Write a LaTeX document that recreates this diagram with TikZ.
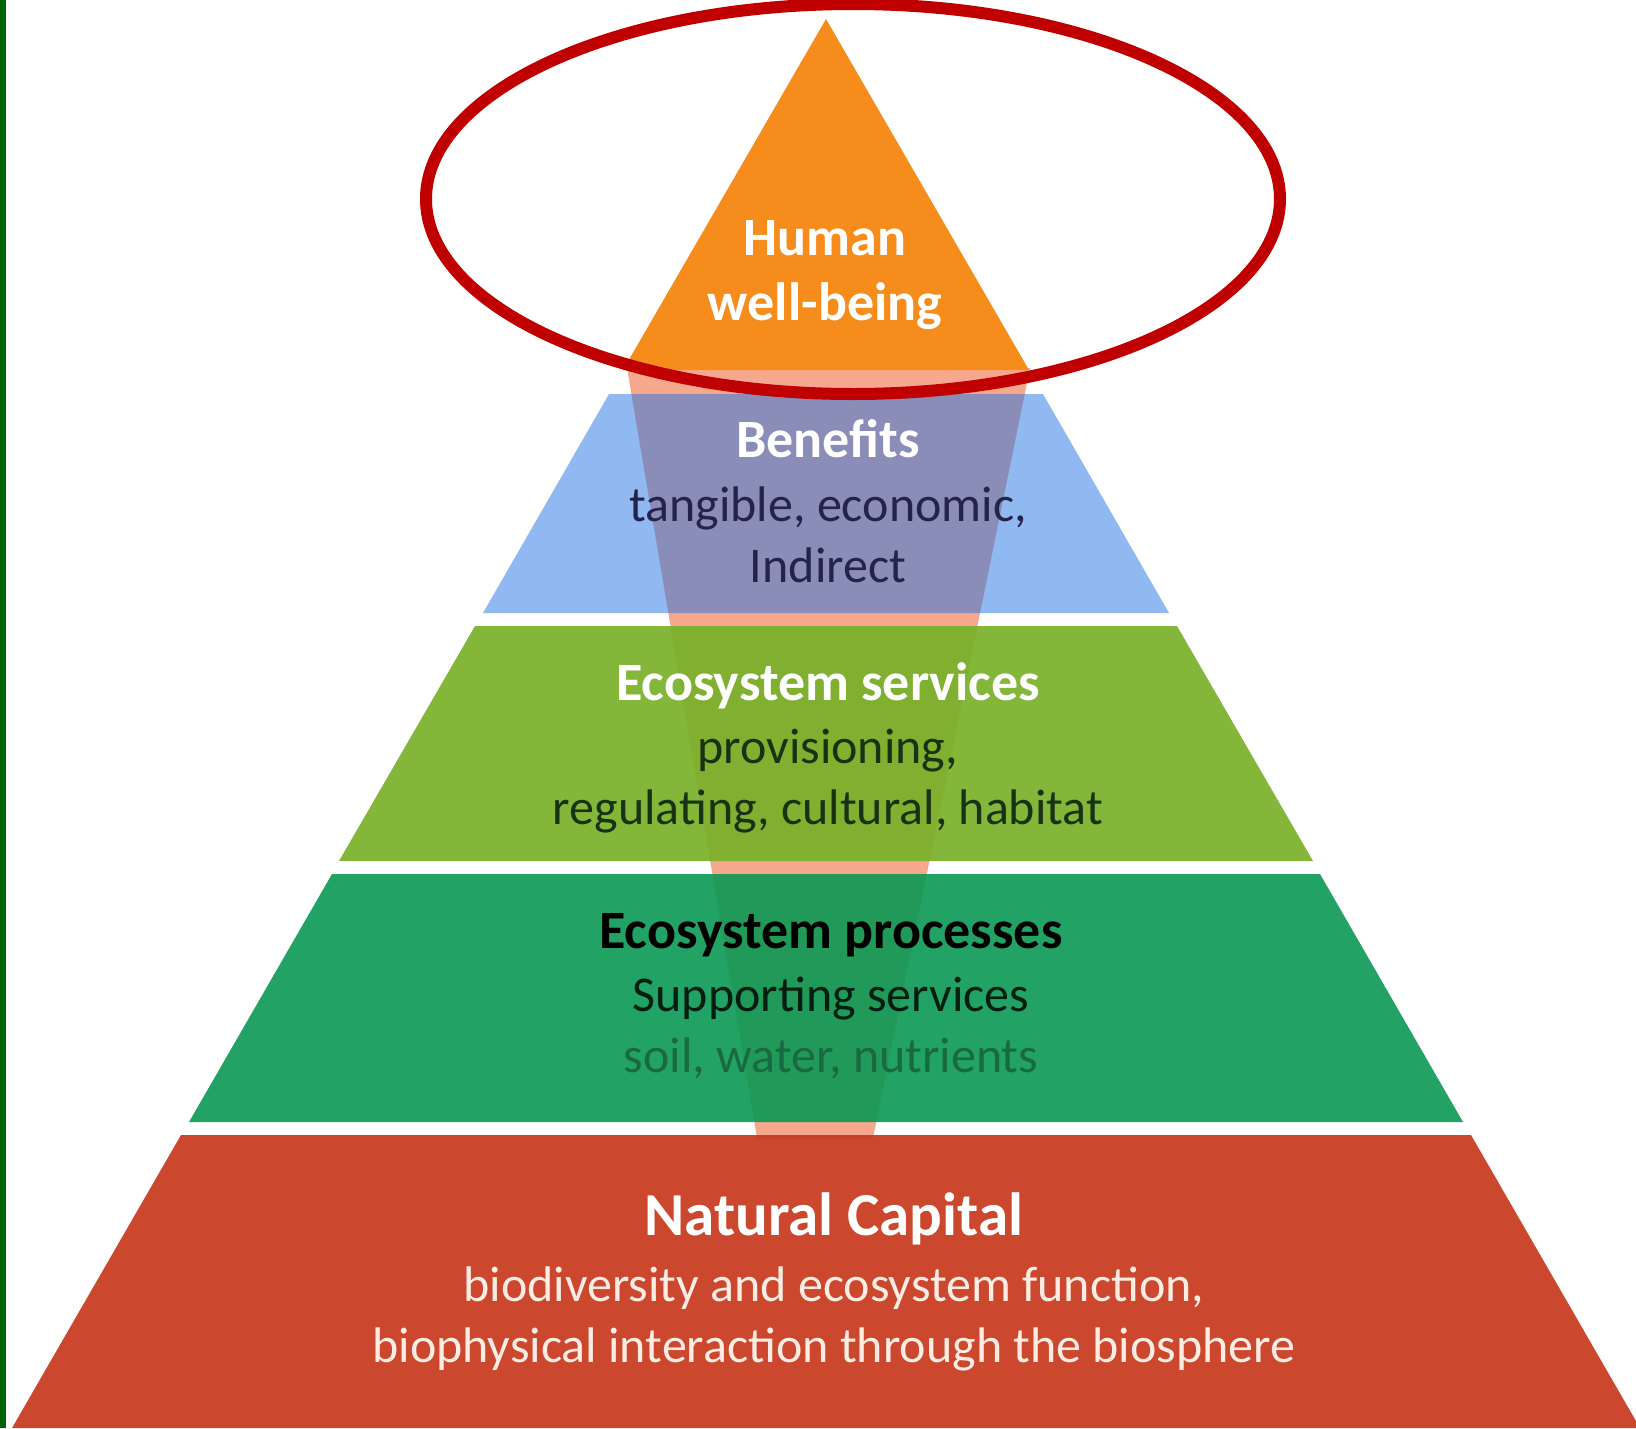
\documentclass[tikz,border=0pt]{standalone}
\usepackage{fontspec}
\setmainfont{Carlito}
\usetikzlibrary{positioning}

\definecolor{edgegreen}{RGB}{0,100,0}
\definecolor{humanorange}{RGB}{246,140,28}
\definecolor{benefitblue}{RGB}{31,115,225}
\definecolor{servicegreen}{RGB}{120,176,40}
\definecolor{processgreen}{RGB}{10,152,84}
\definecolor{capitalred}{RGB}{199,55,27}
\definecolor{funnelsalmon}{RGB}{245,168,142}
\definecolor{ringred}{RGB}{192,0,0}
\definecolor{navytext}{RGB}{35,35,75}
\definecolor{leaftext}{RGB}{25,50,20}
\definecolor{soiltext}{RGB}{25,105,65}
\definecolor{paletext}{RGB}{252,236,228}

\begin{document}
\begin{tikzpicture}[
  x=1pt, y=-1pt,
  node distance = 61pt,
  band/.style={draw=none},
  head/.style={font=\fontsize{54}{60}\selectfont\bfseries, text height=36pt, text depth=10pt, inner sep=0pt},
  body/.style={font=\fontsize{50}{60}\selectfont, text height=34pt, text depth=10pt, inner sep=0pt},
  ring/.style={draw=ringred, line width=12pt}
  ]

\useasboundingbox (0,0) rectangle (1636,1428);
\fill [edgegreen] (0,0) rectangle (6,1428);

% funnel behind the layers
\fill [funnelsalmon] (627,368) -- (1030,368) -- (873,1138) -- (757,1138) -- cycle;

% pyramid layers
\fill [band, humanorange] (826,19) -- (1029,370) -- (623,370) -- cycle;
\fill [band, benefitblue, fill opacity=0.5] (609,394) -- (1043,394) -- (1169,613) -- (483,613) -- cycle;
\fill [band, servicegreen, fill opacity=0.92] (475,626) -- (1177,626) -- (1313,861) -- (339,861) -- cycle;
\fill [band, processgreen, fill opacity=0.9] (332,874) -- (1320,874) -- (1463,1122) -- (189,1122) -- cycle;
\fill [band, capitalred, fill opacity=0.92] (181,1135) -- (1471,1135) -- (1640,1428) -- (12,1428) -- cycle;

\node [head, text=white] (hum) at (825,242) {Human};
\node [head, text=white, below of=hum, yshift=-4pt] (well) {well-being};

\node [head, text=white] (ben) at (828,444) {Benefits};
\node [body, text=navytext, below of=ben, yshift=-4pt] (tang) {tangible, economic,};
\node [body, text=navytext, below of=tang] (ind) {Indirect};

\node [head, text=white] (serv) at (828,687) {Ecosystem services};
\node [body, text=leaftext, below of=serv, yshift=-3pt] (prov) {provisioning,};
\node [body, text=leaftext, below of=prov] (reg) {regulating, cultural, habitat};

\node [head, text=black] (proc) at (831,935) {Ecosystem processes};
\node [body, text=black!80!processgreen, below of=proc, yshift=-3pt] (supp) {Supporting services};
\node [body, text=soiltext, below of=supp] (soil) {soil, water, nutrients};

\node [head, text=white, font=\fontsize{61}{66}\selectfont\bfseries] (cap) at (834,1222) {Natural Capital};
\node [body, text=paletext, below of=cap, yshift=-6pt] (bio) {biodiversity and ecosystem function,};
\node [body, text=paletext, below of=bio] (phys) {biophysical interaction through the biosphere};

\draw [ring] (853,199) ellipse [x radius=427, y radius=195];

\end{tikzpicture}
\end{document}
